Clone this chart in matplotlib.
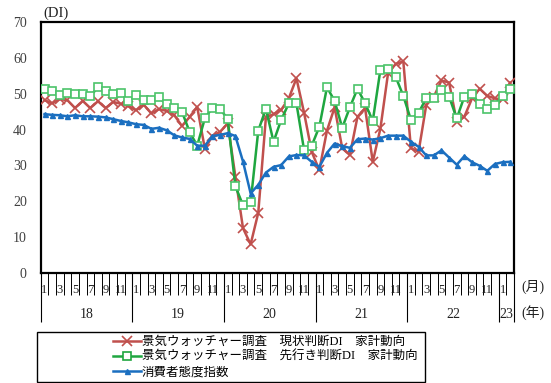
import matplotlib
matplotlib.use("Agg")
import matplotlib.pyplot as plt
from matplotlib.lines import Line2D
from matplotlib.patches import Rectangle
from matplotlib.transforms import blended_transform_factory

plt.rcParams['font.family'] = ['Liberation Serif', 'Noto Sans CJK JP', 'DejaVu Sans']

# Monthly series, Jan 2018 - Feb 2023
years = [18, 19, 20, 21, 22, 23]
months_per_year = [12, 12, 12, 12, 12, 2]

current_di = [48.2, 47.3, 48.5, 48.2, 46.0, 48.0, 46.0, 47.9, 46.0, 47.7, 47.2, 46.5,
              45.4, 46.9, 44.5, 45.7, 45.2, 44.0, 41.0, 43.5, 46.3, 34.7, 38.2, 39.4,
              41.7, 26.9, 12.5, 8.0, 16.8, 43.4, 44.3, 45.5, 48.7, 54.3, 44.7, 33.8,
              28.7, 39.7, 46.2, 34.8, 32.9, 43.6, 45.9, 31.0, 40.3, 55.7, 58.3, 59.0,
              34.8, 33.8, 46.8, 49.2, 53.7, 53.1, 42.2, 43.6, 48.7, 51.4, 49.4, 48.7,
              48.4, 53.1]

future_di = [51.2, 50.7, 49.7, 50.3, 50.0, 50.0, 49.3, 51.8, 50.8, 50.0, 50.2, 47.9,
             49.6, 48.2, 48.2, 49.0, 47.0, 46.1, 45.0, 39.4, 35.5, 43.1, 46.1, 45.8,
             42.9, 24.2, 18.9, 19.7, 39.7, 45.8, 36.6, 42.7, 47.3, 47.3, 34.3, 35.5,
             40.8, 51.8, 48.0, 40.5, 46.2, 51.4, 47.3, 42.4, 56.7, 57.0, 54.7, 49.4,
             42.7, 44.7, 48.7, 48.7, 51.0, 49.2, 43.1, 49.2, 49.9, 47.1, 45.8, 46.8,
             49.4, 51.4]

confidence = [44.3, 44.1, 44.0, 43.7, 44.0, 43.7, 43.7, 43.6, 43.4, 42.9, 42.4, 42.0,
              41.5, 41.3, 40.2, 40.5, 39.8, 38.4, 37.8, 37.4, 35.5, 35.5, 38.2, 38.5,
              39.0, 38.2, 31.1, 22.2, 24.6, 28.0, 29.6, 30.1, 32.5, 32.9, 32.8, 31.0,
              29.6, 33.5, 36.1, 35.4, 34.9, 37.3, 37.5, 37.2, 37.6, 38.3, 38.3, 38.3,
              36.6, 35.2, 32.8, 32.8, 34.2, 32.2, 30.2, 32.6, 30.9, 29.9, 28.5, 30.4,
              30.9, 31.0]

month_labels = ['1', '', '3', '', '5', '', '7', '', '9', '', '11', '']

label_current = '景気ウォッチャー調査\u3000現状判断DI\u3000家計動向'
label_future = '景気ウォッチャー調査\u3000先行き判断DI\u3000家計動向'
label_conf = '消費者態度指数'

RED = '#C0504D'
GREEN = '#1FA640'
GREEN_M = '#4CC46A'
BLUE = '#1B6FC0'

W, H = 551, 383
fig = plt.figure(figsize=(W / 100, H / 100), dpi=100)
ax_l, ax_r, ax_t, ax_b = 40.7, 514, 22, 273
ax = fig.add_axes([ax_l / W, 1 - ax_b / H, (ax_r - ax_l) / W, (ax_b - ax_t) / H])

x = list(range(len(current_di)))
ax.plot(x, current_di, color=RED, lw=1.8, marker='x', ms=6.5, mew=1.2, zorder=3)
ax.plot(x, future_di, color=GREEN, lw=1.8, marker='s', ms=5.2, mfc='white',
        mec=GREEN_M, mew=1.2, zorder=4)
ax.plot(x, confidence, color=BLUE, lw=1.8, marker='^', ms=3.6, mec=BLUE, zorder=5)

ax.set_ylim(0, 70)
ax.set_xlim(-0.5, len(x) - 0.5)
ax.set_yticks(range(0, 71, 10))
ax.tick_params(axis='y', length=0, pad=10, labelsize=10, labelcolor='#404040')
for s in ax.spines.values():
    s.set_linewidth(1.6)
    s.set_color('black')

# month boundaries (minor) and year boundaries (major)
n = len(x)
bounds = [b - 0.5 for b in range(n + 1)]
year_bounds = []
pos = 0
for m in months_per_year:
    year_bounds.append(pos - 0.5)
    pos += m
year_bounds.append(pos - 0.5)
ax.set_xticks(year_bounds)
ax.set_xticks(bounds, minor=True)
ax.set_xticklabels([])
ax.tick_params(axis='x', which='major', direction='out', length=35.5, width=0.8, color='black')
ax.tick_params(axis='x', which='minor', direction='out', length=16, width=0.7, color='black')

tr = blended_transform_factory(ax.transData, fig.transFigure)
i = 0
for yr, m in zip(years, months_per_year):
    for k in range(m):
        lab = month_labels[k]
        if lab:
            ax.text(i + k, 1 - 290 / H, lab, transform=tr, ha='center', va='center',
                    fontsize=9, color='#222222')
    ax.text(i + (m - 1) / 2, 1 - 314 / H, str(yr), transform=tr, ha='center',
            va='center', fontsize=10, color='#222222')
    i += m

fig.text(533 / W, 1 - 287 / H, '(月)', ha='center', va='center', fontsize=10, color='#222222')
fig.text(533 / W, 1 - 313 / H, '(年)', ha='center', va='center', fontsize=10, color='#222222')
fig.text(43 / W, 1 - 13 / H, '(DI)', ha='left', va='center', fontsize=10.5, color='#222222')

handles = [
    Line2D([], [], color=RED, lw=1.8, marker='x', ms=6.5, mew=1.2),
    Line2D([], [], color=GREEN, lw=1.8, marker='s', ms=5.2, mfc='white', mec=GREEN, mew=1.2),
    Line2D([], [], color=BLUE, lw=1.8, marker='^', ms=3.6),
]
fig.legend(handles, [label_current, label_future, label_conf], loc='upper left',
           bbox_to_anchor=(113 / W, 1 - 336 / H), frameon=False, fontsize=9,
           handlelength=2.2, handletextpad=0.1, labelspacing=0.25, borderpad=0,
           borderaxespad=0, markerscale=1.0)
fig.patches.append(Rectangle((37 / W, 1 - 382 / H), (425 - 37) / W, (382 - 332) / H,
                             transform=fig.transFigure, fill=False, ec='black', lw=1.0))

fig.savefig('out.png', dpi=100)
